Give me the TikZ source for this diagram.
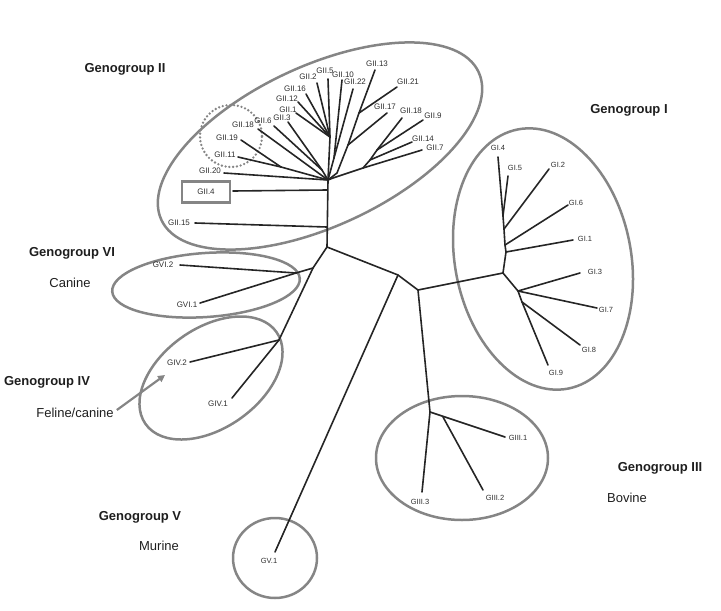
\documentclass[tikz,border=0pt]{standalone}
\usepackage{fontspec}
\setmainfont{Liberation Sans}
\usetikzlibrary{arrows.meta}
\definecolor{treec}{HTML}{252525}
\definecolor{ringc}{HTML}{858585}
\definecolor{labc}{HTML}{2E2E2E}
\definecolor{grpc}{HTML}{1E1E1E}
\begin{document}
\begin{tikzpicture}[x=1pt,y=-1pt,
  br/.style={draw=treec, line width=1.6pt, line cap=round, line join=round},
  ring/.style={draw=ringc, line width=2.5pt},
  dotring/.style={draw=ringc, line width=2.6pt, line cap=round, dash pattern=on 0pt off 3.8pt},
  lab/.style={font=\fontsize{8}{9}\selectfont, text=labc, inner sep=0pt},
  slab/.style={font=\fontsize{7.5}{9}\selectfont, text=labc, inner sep=0pt},
  grp/.style={font=\fontsize{13}{15}\selectfont\bfseries, text=grpc, inner sep=0pt},
  host/.style={font=\fontsize{13}{15}\selectfont, text=grpc, inner sep=0pt},
  arr/.style={draw=ringc, line width=2.2pt, -{Triangle[length=7pt,width=7pt]}}]
\useasboundingbox (0,0) rectangle (721,611);

% ---------- cluster outlines ----------
\draw[ring, rotate around={25:(320,146)}] (320,146) ellipse [x radius=175pt, y radius=80pt];
\draw[ring, rotate around={11:(543,259)}] (543,259) ellipse [x radius=88pt, y radius=132pt];
\draw[ring, rotate around={4:(206,285)}] (206,285) ellipse [x radius=94pt, y radius=32pt];
\draw[ring, rotate around={35:(211,378)}] (211,378) ellipse [x radius=80pt, y radius=50pt];
\draw[ring] (462,458) ellipse [x radius=86pt, y radius=62pt];
\draw[ring] (275,558) ellipse [x radius=42pt, y radius=40pt];
\draw[dotring] (231,136) ellipse [x radius=31pt, y radius=31pt];

% ---------- junctions ----------
\coordinate (R) at (328,180);
\coordinate (T4) at (327,190);
\coordinate (T15) at (327,227);
\coordinate (T1) at (327,247);
\coordinate (A) at (313,268);
\coordinate (VIj) at (296,273);
\coordinate (IVj) at (279,340);
\coordinate (B) at (398,275);
\coordinate (C) at (418,290);
\coordinate (Ij) at (503,273);
\coordinate (IIIj) at (430,412);
\coordinate (IIIa) at (443,417);
\coordinate (Ia) at (506,252);
\coordinate (Ib) at (505,245);
\coordinate (Ic) at (504,229);
\coordinate (Id) at (503,216);
\coordinate (Ie) at (518,291);
\coordinate (If) at (522,302);
\coordinate (J1) at (281,167);
\coordinate (L1) at (322,170);
\coordinate (U) at (330,137);
\coordinate (V1) at (334,158);
\coordinate (M1) at (337,173);
\coordinate (M2) at (348,145);
\coordinate (M3) at (359,113);
\coordinate (Rr0) at (333,178);
\coordinate (Rr1) at (363,168);
\coordinate (Rr2) at (370,160);
\coordinate (Rr3) at (377,150);

% ---------- tips ----------
\coordinate (tGII2) at (317,83);
\coordinate (tGII5) at (328,79);
\coordinate (tGII10) at (342,80);
\coordinate (tGII22) at (353,89);
\coordinate (tGII13) at (375,70);
\coordinate (tGII21) at (397,87);
\coordinate (tGII17) at (387,113);
\coordinate (tGII18r) at (402,118);
\coordinate (tGII9) at (423,120);
\coordinate (tGII14) at (412,142);
\coordinate (tGII7) at (422,150);
\coordinate (tGII16) at (306,94);
\coordinate (tGII12) at (298,102);
\coordinate (tGII1) at (296,113);
\coordinate (tGII3) at (288,122);
\coordinate (tGII6) at (274,126);
\coordinate (tGII18) at (258,129);
\coordinate (tGII19) at (241,140);
\coordinate (tGII11) at (238,157);
\coordinate (tGII20) at (224,173);
\coordinate (tGII4) at (233,191);
\coordinate (tGII15) at (195,223);
\coordinate (tGVI2) at (180,265);
\coordinate (tGVI1) at (200,303);
\coordinate (tGIV2) at (190,362);
\coordinate (tGIV1) at (232,398);
\coordinate (tGV1) at (275,552);
\coordinate (tGIII1) at (505,437);
\coordinate (tGIII2) at (483,490);
\coordinate (tGIII3) at (422,492);
\coordinate (tGI4) at (498,157);
\coordinate (tGI5) at (508,176);
\coordinate (tGI2) at (549,169);
\coordinate (tGI6) at (568,205);
\coordinate (tGI1) at (573,240);
\coordinate (tGI3) at (580,273);
\coordinate (tGI7) at (597,308);
\coordinate (tGI8) at (580,345);
\coordinate (tGI9) at (548,365);

% ---------- tree ----------
\draw[br] (R) -- (T1);
\draw[br] (T4) -- (tGII4);
\draw[br] (T15) -- (tGII15);
\draw[br] (T1) -- (A) -- (VIj);
\draw[br] (VIj) -- (tGVI2);
\draw[br] (VIj) -- (tGVI1);
\draw[br] (A) -- (IVj) -- (tGIV1);
\draw[br] (IVj) -- (tGIV2);
\draw[br] (T1) -- (B) -- (C);
\draw[br] (B) -- (tGV1);
\draw[br] (C) -- (Ij);
\draw[br] (C) -- (IIIj);
\draw[br] (IIIj) -- (tGIII3);
\draw[br] (IIIj) -- (tGIII1);
\draw[br] (IIIa) -- (tGIII2);
\draw[br] (Ij) -- (Ia) -- (Ib) -- (Ic) -- (Id) -- (tGI4);
\draw[br] (Ia) -- (tGI1);
\draw[br] (Ib) -- (tGI6);
\draw[br] (Ic) -- (tGI2);
\draw[br] (Id) -- (tGI5);
\draw[br] (Ij) -- (Ie);
\draw[br] (Ie) -- (tGI3);
\draw[br] (Ie) -- (tGI7);
\draw[br] (Ie) -- (If) -- (tGI9);
\draw[br] (If) -- (tGI8);
% GII crown
\draw[br] (R) -- (tGII20);
\draw[br] (R) -- (J1);
\draw[br] (J1) -- (tGII19);
\draw[br] (J1) -- (tGII11);
\draw[br] (R) -- (tGII18);
\draw[br] (R) -- (L1);
\draw[br] (L1) -- (tGII6);
\draw[br] (L1) -- (tGII3);
\draw[br] (R) -- (U);
\draw[br] (U) -- (tGII1);
\draw[br] (U) -- (tGII12);
\draw[br] (U) -- (tGII16);
\draw[br] (U) -- (tGII2);
\draw[br] (U) -- (tGII5);
\draw[br] (R) -- (V1);
\draw[br] (V1) -- (tGII10);
\draw[br] (V1) -- (tGII22);
\draw[br] (R) -- (M1) -- (M2) -- (M3) -- (tGII13);
\draw[br] (M2) -- (tGII17);
\draw[br] (M3) -- (tGII21);
\draw[br] (R) -- (Rr0) -- (Rr1) -- (Rr2) -- (Rr3);
\draw[br] (Rr1) -- (tGII7);
\draw[br] (Rr2) -- (tGII14);
\draw[br] (Rr3) -- (tGII18r);
\draw[br] (Rr3) -- (tGII9);

% ---------- leaf labels ----------
\node[lab] (lGII2) at (308,77) {GII.2};
\node[lab] (lGII5) at (325,71) {GII.5};
\node[lab] (lGII10) at (343,75) {GII.10};
\node[lab] (lGII22) at (355,82) {GII.22};
\node[lab] (lGII13) at (377,64) {GII.13};
\node[lab] (lGII21) at (408,82) {GII.21};
\node[lab] (lGII17) at (385,107) {GII.17};
\node[lab] (lGII18r) at (411,111) {GII.18};
\node[lab] (lGII9) at (433,116) {GII.9};
\node[lab] (lGII14) at (423,139) {GII.14};
\node[lab] (lGII7) at (435,148) {GII.7};
\node[lab] (lGII16) at (295,89) {GII.16};
\node[lab] (lGII12) at (287,99) {GII.12};
\node[lab] (lGII1) at (288,110) {GII.1};
\node[lab] (lGII3) at (282,118) {GII.3};
\node[lab] (lGII6) at (263,121) {GII.6};
\node[lab] (lGII18) at (243,125) {GII.18};
\node[lab] (lGII19) at (227,138) {GII.19};
\node[lab] (lGII11) at (225,155) {GII.11};
\node[lab] (lGII20) at (210,171) {GII.20};
\node[lab] (lGII4) at (206,192) {GII.4};
\node[lab] (lGII15) at (179,223) {GII.15};
\node[draw=ringc, line width=2.8pt, minimum width=48pt, minimum height=21pt, inner sep=0pt] (box4) at (206,192) {};
\node[lab] (lGVI2) at (163,265) {GVI.2};
\node[lab] (lGVI1) at (187,305) {GVI.1};
\node[lab] (lGIV2) at (177,363) {GIV.2};
\node[lab] (lGIV1) at (218,404) {GIV.1};
\node[slab] (lGV1) at (269,561) {GV.1};
\node[slab] (lGIII1) at (518,438) {GIII.1};
\node[slab] (lGIII2) at (495,498) {GIII.2};
\node[slab] (lGIII3) at (420,502) {GIII.3};
\node[slab] (lGI4) at (498,148) {GI.4};
\node[slab] (lGI5) at (515,168) {GI.5};
\node[slab] (lGI2) at (558,165) {GI.2};
\node[slab] (lGI6) at (576,203) {GI.6};
\node[slab] (lGI1) at (585,239) {GI.1};
\node[slab] (lGI3) at (595,272) {GI.3};
\node[slab] (lGI7) at (606,310) {GI.7};
\node[slab] (lGI8) at (589,350) {GI.8};
\node[slab] (lGI9) at (556,373) {GI.9};

% ---------- group labels ----------
\node[grp] (gII) at (125,69) {Genogroup II};
\node[grp] (gI) at (629,110) {Genogroup I};
\node[grp] (gVI) at (72,253) {Genogroup VI};
\node[host] (hVI) at (70,283) {Canine};
\node[grp] (gIV) at (47,382) {Genogroup IV};
\node[host] (hIV) at (75,413) {Feline/canine};
\node[grp] (gIII) at (660,468) {Genogroup III};
\node[host] (hIII) at (627,498) {Bovine};
\node[grp] (gV) at (140,517) {Genogroup V};
\node[host] (hV) at (159,546) {Murine};

\coordinate (aT) at (165,375);
\draw[arr] ([shift={(3,-3)}]hIV.east) -- (aT);
\end{tikzpicture}
\end{document}
